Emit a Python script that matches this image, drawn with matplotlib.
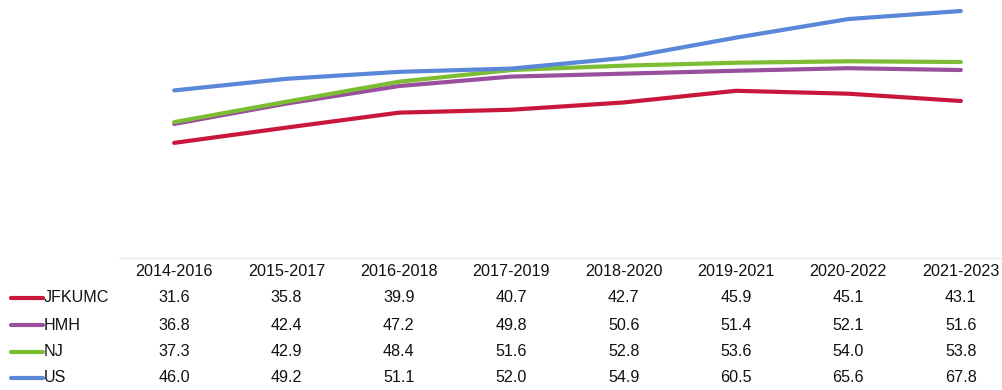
import matplotlib.pyplot as plt
from matplotlib.lines import Line2D
import matplotlib.transforms as mtransforms

plt.rcParams['font.family'] = ['Liberation Sans', 'DejaVu Sans']
fs = 11.6

periods = ['2014-2016', '2015-2017', '2016-2018', '2017-2019',
           '2018-2020', '2019-2021', '2020-2022', '2021-2023']
jfkumc = [31.6, 35.8, 39.9, 40.7, 42.7, 45.9, 45.1, 43.1]
hmh = [36.8, 42.4, 47.2, 49.8, 50.6, 51.4, 52.1, 51.6]
nj = [37.3, 42.9, 48.4, 51.6, 52.8, 53.6, 54.0, 53.8]
us = [46.0, 49.2, 51.1, 52.0, 54.9, 60.5, 65.6, 67.8]

series = [('JFKUMC', jfkumc, '#C8173A'),
          ('HMH', hmh, '#974F9E'),
          ('NJ', nj, '#7DBD34'),
          ('US', us, '#5B87D8')]

fig = plt.figure(figsize=(10.03, 3.9), dpi=100)
ax = fig.add_axes([118 / 1003, 1 - 258 / 390, 899 / 1003, 255 / 390])

x = list(range(len(periods)))
for name, vals, color in series:
    ax.plot(x, vals, color=color, lw=3, solid_capstyle='round', zorder=3)

ax.set_xlim(-0.5, len(periods) - 0.5)
ax.set_ylim(0, 70)
ax.axis('off')

# faint cell borders along the top of the data table
for i in x:
    ax.plot([i - 0.495, i + 0.495], [0, 0], color='#E6E6E6', lw=0.8, clip_on=False)

# data table below the plot
trans = mtransforms.blended_transform_factory(ax.transData, fig.transFigure)
header_y = 1 - 272 / 390
row_ys = [1 - y / 390 for y in (298, 325, 352, 378)]

for i, p in enumerate(periods):
    ax.text(i, header_y, p, transform=trans, ha='center', va='center',
            fontsize=fs, color='#111111')

for (name, vals, color), ry in zip(series, row_ys):
    for i, v in enumerate(vals):
        ax.text(i, ry, f'{v:.1f}', transform=trans, ha='center', va='center',
                fontsize=fs, color='#111111')
    fig.add_artist(Line2D([11 / 1003, 43 / 1003], [ry, ry], color=color, lw=3,
                          solid_capstyle='round', transform=fig.transFigure))
    fig.text(44 / 1003, ry, name, ha='left', va='center', fontsize=fs,
             color='#111111')

fig.savefig('out.png', dpi=100)
